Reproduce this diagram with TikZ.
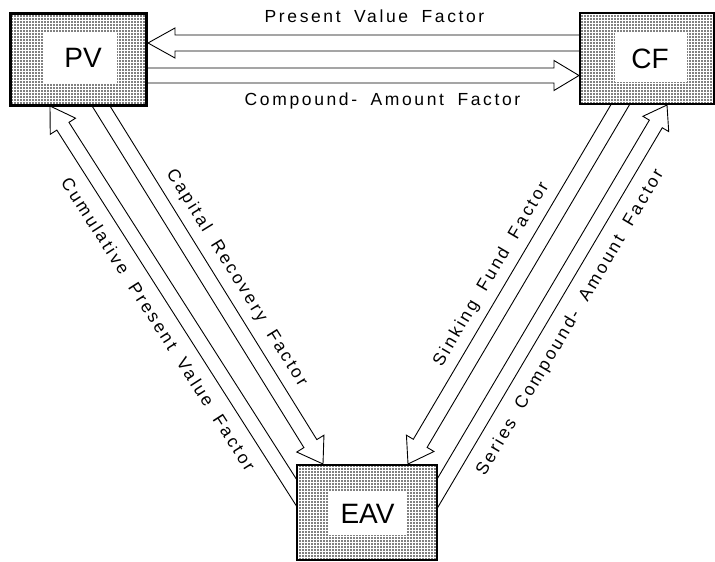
\documentclass[tikz,border=0pt]{standalone}
\usepackage{fontspec}
\setmainfont{Liberation Sans}
\newfontfamily\labfont[LetterSpace=15,WordSpace=1.8]{Liberation Sans}
\usetikzlibrary{calc,patterns.meta}
% block arrow: tail, tip, shaft half width, head half width, head length
\newcommand\blockarr[5]{%
  \coordinate (hb) at ($(#2)!#5!(#1)$);
  \draw[arrline] ($(#1)!#3!90:(#2)$) -- ($(hb)!#3!90:(#2)$) -- ($(hb)!#4!90:(#2)$)
    -- (#2) -- ($(hb)!#4!-90:(#2)$) -- ($(hb)!#3!-90:(#2)$) -- ($(#1)!#3!-90:(#2)$);
}
\tikzset{
  arrline/.style={line width=0.9pt, line join=miter},
  box/.style={draw, line width=2.6pt, preaction={fill=white},
    pattern={Dots[distance=3pt, radius=0.8pt]}, pattern color=black,
    inner sep=0pt},
  innerbox/.style={fill=white, inner sep=0pt},
  boxlabel/.style={font=\fontsize{28}{30}\selectfont, inner sep=0pt},
  lab/.style={font=\labfont\fontsize{17.5}{19}\selectfont, inner sep=0pt,
    text height=12.5pt, text depth=0pt}
}
\begin{document}
\begin{tikzpicture}[x=1pt,y=-1pt]
\fill[white] (0,0) rectangle (715,562);
\useasboundingbox (0,0) rectangle (715,562);

% arrow end points
\coordinate (pvfA) at (600,43);   \coordinate (pvfB) at (148,43);
\coordinate (cafA) at (130,75.5); \coordinate (cafB) at (579,75.5);
\coordinate (crfA) at (90.5,89);  \coordinate (crfB) at (323,464);
\coordinate (cpvA) at (307.8,510.4); \coordinate (cpvB) at (50,106);
\coordinate (sffA) at (630.2,87.8); \coordinate (sffB) at (408,464);
\coordinate (scaA) at (426.8,511.2); \coordinate (scaB) at (667,105);

\blockarr{pvfA}{pvfB}{8pt}{15pt}{27pt}
\blockarr{cafA}{cafB}{7.5pt}{15pt}{25pt}
\blockarr{crfA}{crfB}{7.6pt}{16pt}{24pt}
\blockarr{cpvA}{cpvB}{7.2pt}{15pt}{24pt}
\blockarr{sffA}{sffB}{8pt}{16pt}{24pt}
\blockarr{scaA}{scaB}{7.5pt}{15pt}{22pt}

% boxes
\node[box, minimum width=136pt, minimum height=92pt] (PV) at (78.5,59.5) {};
\node[innerbox, minimum width=74pt, minimum height=52pt] (PVi) at (80,58) {};
\node[boxlabel] (PVt) at (83,58) {PV};

\node[box, minimum width=134pt, minimum height=91pt] (CF) at (647,58.5) {};
\node[innerbox, minimum width=72pt, minimum height=49pt] (CFi) at (651,57.5) {};
\node[boxlabel] (CFt) at (650,58.5) {CF};

\node[box, minimum width=140pt, minimum height=95pt] (EAV) at (367,512.5) {};
\node[innerbox, minimum width=79pt, minimum height=43pt] (EAVi) at (367.5,513.5) {};
\node[boxlabel] (EAVt) at (367.5,513.5) {EAV};

% labels
\node[lab] (l1) at (374.5,16.5) {Present Value Factor};
\node[lab] (l2) at (382.5,99) {Compound- Amount Factor};
\node[lab, rotate=-58.2] (l3) at (238,277) {Capital Recovery Factor};
\node[lab, rotate=-57.4] (l4) at (158.5,324) {Cumulative Present Value Factor};
\node[lab, rotate=59.4] (l5) at (490,273.5) {Sinking Fund Factor};
\node[lab, rotate=59.4] (l6) at (569,322) {Series Compound- Amount Factor};
\end{tikzpicture}
\end{document}
